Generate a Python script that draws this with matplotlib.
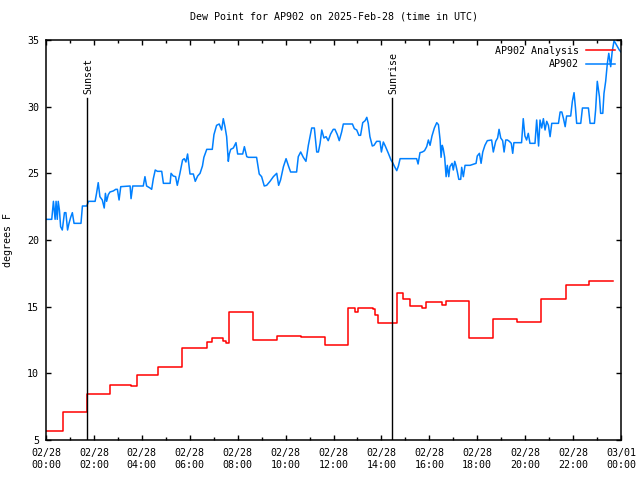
import matplotlib
matplotlib.use("Agg")
import matplotlib.pyplot as plt
from matplotlib.ticker import MultipleLocator

# ---- data (hours since 02/28 00:00 UTC) ----
obs_hours = [0.03, 0.24, 0.31, 0.38, 0.42, 0.47, 0.51, 0.56, 0.61, 0.68, 0.77, 0.83, 0.90, 0.96,
             1.03, 1.10, 1.17, 1.46, 1.52, 1.70, 1.73, 1.77, 2.05, 2.11, 2.18, 2.25, 2.35, 2.43,
             2.48, 2.53, 2.60, 2.67, 2.81, 2.91, 2.98, 3.05, 3.12, 3.51, 3.55, 3.62, 4.06, 4.13,
             4.20, 4.34, 4.41, 4.48, 4.56, 4.65, 4.83, 4.90, 5.18, 5.22, 5.31, 5.41, 5.48, 5.59,
             5.70, 5.77, 5.84, 5.91, 6.01, 6.15, 6.23, 6.33, 6.43, 6.53, 6.59, 6.71, 6.94, 7.01,
             7.12, 7.23, 7.33, 7.40, 7.47, 7.54, 7.61, 7.65, 7.71, 7.82, 7.93, 8.00, 8.21, 8.28,
             8.38, 8.45, 8.79, 8.90, 9.00, 9.11, 9.21, 9.35, 9.49, 9.63, 9.71, 9.79, 9.91, 10.02,
             10.13, 10.21, 10.46, 10.53, 10.63, 10.74, 10.85, 10.95, 11.09, 11.20, 11.30, 11.37,
             11.44, 11.51, 11.60, 11.69, 11.78, 11.88, 11.99, 12.06, 12.16, 12.24, 12.34, 12.41,
             12.79, 12.87, 12.97, 13.06, 13.13, 13.22, 13.32, 13.39, 13.45, 13.52, 13.62, 13.69,
             13.80, 13.94, 14.00, 14.08, 14.16, 14.29, 14.40, 14.47, 14.55, 14.64, 14.71, 14.78,
             15.47, 15.53, 15.61, 15.71, 15.80, 15.89, 15.96, 16.03, 16.11, 16.21, 16.31, 16.38,
             16.45, 16.49, 16.54, 16.58, 16.64, 16.70, 16.75, 16.81, 16.86, 16.95, 17.00, 17.06,
             17.11, 17.17, 17.23, 17.31, 17.35, 17.42, 17.49, 17.70, 17.95, 18.00, 18.09, 18.16,
             18.23, 18.32, 18.42, 18.60, 18.67, 18.77, 18.85, 18.91, 18.98, 19.06, 19.12, 19.19,
             19.26, 19.34, 19.42, 19.48, 19.53, 19.85, 19.92, 19.99, 20.06, 20.13, 20.20, 20.41,
             20.48, 20.52, 20.56, 20.62, 20.69, 20.76, 20.83, 20.90, 20.97, 21.04, 21.11, 21.39,
             21.46, 21.53, 21.60, 21.67, 21.73, 21.90, 21.97, 22.04, 22.10, 22.15, 22.32, 22.39,
             22.64, 22.71, 22.89, 22.94, 23.01, 23.10, 23.15, 23.24, 23.29, 23.36, 23.43, 23.49,
             23.57, 23.63, 23.71, 23.82, 23.93, 24.00]
obs_values = [21.55, 21.55, 22.9, 21.55, 22.9, 21.55, 22.9, 22.25, 21.0, 20.75, 22.05, 22.05, 20.75, 21.25,
              21.7, 22.05, 21.25, 21.25, 22.55, 22.55, 22.68, 22.9, 22.9, 23.5, 24.3, 23.25, 23.0, 22.4,
              23.5, 22.9, 23.4, 23.6, 23.68, 23.8, 23.8, 23.0, 24.0, 24.05, 23.1, 24.05, 24.05, 24.75,
              24.05, 23.9, 23.8, 24.6, 25.25, 25.15, 25.15, 24.25, 24.25, 25.0, 24.8, 24.75, 24.1, 25.0,
              26.0, 26.1, 25.85, 26.45, 24.95, 24.95, 24.4, 24.8, 25.0, 25.55, 26.2, 26.8, 26.8, 27.9,
              28.6, 28.7, 28.25, 29.1, 28.5, 27.75, 25.9, 26.45, 26.8, 26.9, 27.3, 26.45, 26.45, 27.0,
              26.25, 26.2, 26.2, 24.95, 24.75, 24.05, 24.1, 24.4, 24.75, 25.0, 24.1, 24.5, 25.5, 26.1,
              25.5, 25.1, 25.1, 26.25, 26.6, 26.2, 25.9, 27.1, 28.4, 28.4, 26.6, 26.6,
              27.25, 28.25, 27.65, 27.75, 27.45, 27.95, 28.3, 28.3, 27.9, 27.45, 28.1, 28.7,
              28.7, 28.35, 28.25, 27.85, 27.85, 28.8, 28.95, 29.2, 28.75, 27.75, 27.05, 27.1,
              27.4, 27.4, 26.6, 27.35, 27.05, 26.5, 26.0, 25.8, 25.5, 25.2, 25.55, 26.1,
              26.1, 25.7, 26.55, 26.6, 26.7, 27.0, 27.5, 27.1, 27.8, 28.4, 28.8, 28.65,
              27.5, 26.2, 27.1, 26.85, 26.2, 24.75, 25.6, 24.75, 25.5, 25.75, 25.25, 25.9,
              25.6, 25.1, 24.55, 24.55, 25.45, 24.75, 25.6, 25.6, 25.75, 26.3, 26.5, 25.75,
              26.6, 27.1, 27.45, 27.5, 26.6, 27.4, 27.65, 28.3, 27.65, 27.45, 26.6, 27.5,
              27.5, 27.4, 27.25, 26.5, 27.3, 27.3, 29.1, 27.8, 27.5, 28.0, 27.25, 27.25,
              29.0, 28.0, 27.05, 29.0, 28.4, 29.1, 28.25, 28.9, 28.6, 27.75, 28.75, 28.75,
              29.6, 29.6, 29.1, 28.5, 29.3, 29.3, 30.4, 31.05, 29.9, 28.75, 28.75, 29.9,
              29.9, 28.75, 28.75, 29.75, 31.9, 30.75, 29.5, 29.5, 31.0, 31.9, 33.25, 34.0,
              33.0, 34.1, 34.95, 34.6, 34.25, 34.1]

ana_hours = [0.0, 0.70, 1.70, 2.67, 3.55, 3.78, 4.69, 5.69, 6.19, 6.71, 6.94, 7.40, 7.53, 7.64,
             8.63, 9.65, 10.64, 11.63, 12.59, 12.90, 13.04, 13.66, 13.75, 13.87, 14.64, 14.92,
             15.19, 15.68, 15.86, 16.51, 16.69, 17.64, 18.67, 19.64, 20.66, 21.69, 22.67, 23.65]
ana_values = [5.65, 7.1, 8.45, 9.1, 9.05, 9.85, 10.45, 11.92, 11.87, 12.32, 12.62, 12.4, 12.3, 14.57,
              12.47, 12.77, 12.7, 12.1, 14.88, 14.6, 14.88, 14.8, 14.4, 13.75, 16.0, 15.6,
              15.07, 14.9, 15.33, 15.13, 15.4, 12.62, 14.05, 13.85, 15.55, 16.6, 16.9, 16.9]

sun_events = ["Sunset", "Sunrise"]
sun_hours = [1.73, 14.45]

tick_hours = list(range(0, 25, 2))
tick_labels = ["02/28\n00:00", "02/28\n02:00", "02/28\n04:00", "02/28\n06:00", "02/28\n08:00",
               "02/28\n10:00", "02/28\n12:00", "02/28\n14:00", "02/28\n16:00", "02/28\n18:00",
               "02/28\n20:00", "02/28\n22:00", "03/01\n00:00"]
y_ticks = [5, 10, 15, 20, 25, 30, 35]

plt.rcParams['font.family'] = ['DejaVu Sans Mono']
fs = 7.2

fig = plt.figure(figsize=(6.4, 4.8), dpi=100)
ax = fig.add_axes([46/640, 1-440/480, (621-46)/640, 400/480])

ax.plot(ana_hours, ana_values, color='#ff0000', lw=1.1, drawstyle='steps-post', label='AP902 Analysis')
ax.plot(obs_hours, obs_values, color='#0080ff', lw=1.1, label='AP902')

for name, h in zip(sun_events, sun_hours):
    ax.plot([h, h], [5, 30.65], color='black', lw=1.0)
    ax.text(h + 0.03, 30.95, name, rotation=90, ha='center', va='bottom', fontsize=fs)

ax.set_xlim(0, 24)
ax.set_ylim(5, 35)
ax.set_xticks(tick_hours)
ax.set_xticklabels(tick_labels, fontsize=fs, linespacing=1.25)
ax.xaxis.set_minor_locator(MultipleLocator(1))
ax.set_yticks(y_ticks)
ax.set_yticklabels([str(v) for v in y_ticks], fontsize=fs)
ax.tick_params(which='both', direction='in', top=True, right=True, width=1.0)
ax.tick_params(which='major', length=3.3)
ax.tick_params(which='minor', length=2.0)
ax.tick_params(axis='x', pad=6)
ax.tick_params(axis='y', pad=5)
for s in ax.spines.values():
    s.set_linewidth(1.1)

ax.set_ylabel('degrees F', fontsize=fs, labelpad=10)
ax.set_title('Dew Point for AP902 on 2025-Feb-28 (time in UTC)', fontsize=fs, pad=15)

leg = ax.legend(loc='upper right', frameon=False, markerfirst=False, fontsize=fs,
                handlelength=2.9, handletextpad=0.7, borderaxespad=0.2, labelspacing=0.35)

fig.savefig('out.png', dpi=100)
